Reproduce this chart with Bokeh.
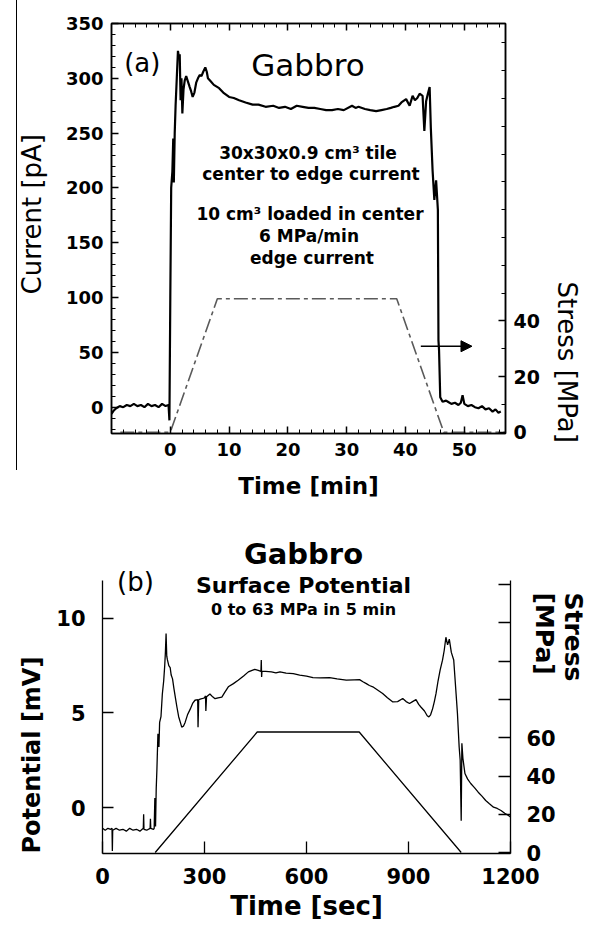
import math
from bokeh.plotting import figure
from bokeh.models import Range1d, LinearAxis, FixedTicker, Label, Arrow, NormalHead, Title
from bokeh.embed import file_html
from bokeh.resources import INLINE

FONT = "DejaVu Sans"

# ---------------- Panel (a) data : current [pA] vs time [min] ----------------
cur_t = [-10.0, -9.6, -9.2, -8.6, -8.0, -7.4, -6.8, -6.2, -5.6, -5.0, -4.4, -3.8, -3.2, -2.6,
         -2.0, -1.4, -0.8, -0.3, -0.15, 0.0, 0.15, 0.35, 0.5, 0.6, 0.75, 0.9, 1.1, 1.3, 1.5,
         1.6, 1.75, 1.9, 2.05, 2.25, 2.45, 2.7, 3.0, 3.3, 3.55, 3.8, 4.1, 4.4, 4.7, 5.0, 5.3,
         5.6, 5.95, 6.2, 6.4, 6.9, 7.4, 8.3, 9.0, 10.0, 10.8, 11.7, 12.8, 14.0, 15.0, 16.2,
         17.5, 18.5, 19.5, 20.5, 21.5, 22.5, 23.5, 24.5, 25.5, 26.5, 27.5, 28.5, 29.5, 30.9,
         31.5, 32.0, 33.1, 34.0, 35.0, 35.9, 36.8, 37.5, 38.1, 38.8, 39.3, 40.1, 40.7, 41.2,
         41.6, 42.0, 42.4, 42.9, 43.2, 43.5, 43.8, 44.1, 44.3, 44.6, 44.9, 45.2, 45.5, 45.6,
         45.7, 45.9, 46.3, 46.9, 47.2, 47.8, 48.4, 49.0, 49.4, 49.7, 50.0, 50.6, 51.2, 51.8,
         52.4, 53.0, 53.6, 54.2, 54.8, 55.3, 55.8, 56.2]
cur_pA = [-6, -3, -1, 1, 0, 2, 1, 3, 1, 2, 0, 3, 1, 2,
          0, 3, 1, 2, -12, 100, 200, 215, 245, 205, 250, 275, 300, 325, 318,
          322, 280, 300, 268, 290, 298, 302, 297, 292, 288, 283, 287, 296, 300, 303, 302,
          306, 310, 306, 300, 297, 294, 291, 287, 283, 282, 280, 278, 276, 276, 274,
          275, 273, 274, 272, 275, 274, 273, 273, 272, 271, 271, 272, 271, 275,
          273, 274, 272, 271, 270, 271, 272, 273, 274, 275, 278, 281, 275, 284,
          280, 282, 286, 284, 252, 279, 286, 292, 255, 216, 189, 207, 180, 61,
          52, 9, 5, 6, 5, 3, 4, 2, 4, 11, 3, 1, 2, 0,
          -1, 1, -2, -1, -4, -2, -5, -4]
stress_a_t = [-8.5, 0, 8, 38.5, 46.5, 57]
stress_a_MPa = [0, 0, 48, 48, 0, 0]

xa_ticks = [0, 10, 20, 30, 40, 50]
ya_ticks = [0, 50, 100, 150, 200, 250, 300, 350]
sa_ticks = [0, 20, 40]

# ---------------- Panel (b) data : potential [mV] vs time [sec] ----------------
pot_t = [0, 8, 16, 24, 28, 29, 30, 40, 50, 60, 70, 80, 90, 100, 110, 120, 121, 122, 130, 140,
         141, 142, 150, 152, 154, 156, 158, 160, 163, 166, 168, 172, 176, 180, 183, 185, 187,
         189, 191, 195, 199, 202, 206, 210, 214, 219, 224, 229, 233, 238, 243, 250, 258, 265,
         272, 280, 281, 283, 292, 300, 303, 304, 306, 316, 324, 331, 340, 351, 360, 370, 385,
         399, 415, 429, 440, 448, 458, 466, 467, 468, 469, 480, 497, 510, 522, 540, 561, 580,
         600, 619, 640, 668, 690, 717, 740, 756, 766, 776, 785, 795, 810, 824, 838, 854, 868,
         883, 893, 903, 912, 922, 930, 937, 947, 955, 960, 965, 971, 976, 981, 987, 993, 1000,
         1005, 1010, 1015, 1020, 1026, 1033, 1040, 1044, 1049, 1052, 1055, 1057, 1060, 1066,
         1074, 1083, 1094, 1105, 1116, 1127, 1138, 1150, 1161, 1172, 1183, 1194, 1200]
pot_mV = [-1.1, -1.2, -1.1, -1.15, -1.1, -2.3, -1.2, -1.1, -1.2, -1.15, -1.25, -1.1, -1.2,
          -1.15, -1.25, -1.1, -0.35, -1.15, -1.2, -1.1, -0.6, -1.1, -1.15, -1.1, 0.5, -1.0,
          1.0, 2.0, 3.9, 3.2, 4.5, 4.8, 6.0, 6.7, 7.5, 8.2, 9.2, 8.0, 7.8, 7.5, 7.4, 7.0, 6.8,
          6.3, 5.85, 5.3, 4.8, 4.5, 4.25, 4.3, 4.5, 4.9, 5.2, 5.5, 5.67, 5.7, 4.25, 5.7, 5.75,
          5.8, 5.9, 5.1, 5.85, 6.0, 5.85, 5.75, 5.8, 5.84, 6.1, 6.38, 6.55, 6.73, 6.95, 7.17,
          7.25, 7.3, 7.25, 7.2, 7.8, 6.9, 7.2, 7.2, 7.17, 7.12, 7.17, 7.1, 7.08, 7.0, 6.95,
          6.87, 6.85, 6.87, 6.8, 6.73, 6.75, 6.76, 6.65, 6.55, 6.45, 6.38, 6.2, 6.03, 5.8,
          5.58, 5.6, 5.76, 5.6, 5.5, 5.6, 5.7, 5.45, 5.3, 5.1, 4.85, 4.79, 4.9, 5.23, 5.6,
          6.03, 6.7, 7.26, 7.79, 8.3, 9.0, 8.6, 8.9, 8.2, 7.8, 6.0, 4.96, 3.2, 2.5, -0.7, 3.4,
          2.6, 1.8, 1.5, 1.27, 1.05, 0.81, 0.6, 0.37, 0.2, 0.02, -0.05, -0.16, -0.3, -0.42,
          -0.5]
stress_b_t = [155, 455, 755, 1055]
stress_b_MPa = [0, 63, 63, 0]

xb_ticks = [0, 300, 600, 900, 1200]
yb_ticks = [0, 5, 10]
sb_ticks = [0, 20, 40, 60, 80, 100, 120, 140]
sb_labelled = [0, 20, 40, 60]


def style_axis(ax, tick_in, minor_in, size, standoff, line_w=1.5):
    ax.axis_line_width = line_w
    ax.axis_line_color = "black"
    ax.major_tick_in = tick_in
    ax.major_tick_out = 0
    ax.minor_tick_in = minor_in
    ax.minor_tick_out = 0
    ax.major_tick_line_width = line_w
    ax.minor_tick_line_width = 1
    ax.major_tick_line_color = "black"
    ax.minor_tick_line_color = "black"
    ax.major_label_text_font = FONT
    ax.major_label_text_font_style = "bold"
    ax.major_label_text_font_size = size
    ax.major_label_text_color = "black"
    ax.major_label_standoff = standoff


def add_text(p, conv, px, py, text, size, bold=False, angle=0.0):
    fx, fy = conv
    p.add_layout(Label(x=fx(px), y=fy(py), text=text, text_font=FONT,
                       text_font_size=size, text_font_style="bold" if bold else "normal",
                       text_align="center", text_baseline="middle", angle=angle,
                       text_color="black"))


def side_title(text, size, bold, offset, standoff):
    t = Title(text=text, text_font=FONT, text_font_size=size,
              text_font_style="bold" if bold else "normal", text_color="black",
              align="left", vertical_align="middle", offset=offset)
    try:
        t.standoff = standoff
    except Exception:
        t.standoff = 0
    return t


def converter(L, R, T, B, x0, x1, y0, y1):
    return (lambda px: x0 + (px - L) / (R - L) * (x1 - x0),
            lambda py: y1 - (py - T) / (B - T) * (y1 - y0))


# ================= Panel (a) =================
AL, AR, AT, AB = 108, 505, 23, 433
AH = 510
xa0, xa1, ya0, ya1 = -10, 57, -24, 350
pa = figure(width=590, height=AH, x_range=Range1d(xa0, xa1), y_range=Range1d(ya0, ya1),
            title=None, output_backend="svg", toolbar_location=None,
            min_border_left=AL, min_border_right=590 - AR, min_border_top=AT,
            min_border_bottom=AH - AB,
            styles={"background-image": "linear-gradient(#000, #000)",
                    "background-size": "1px 470px", "background-position": "16px 0px",
                    "background-repeat": "no-repeat", "background-color": "white"})
pa.grid.grid_line_color = None
pa.outline_line_color = "black"
pa.outline_line_width = 1.5
pa.background_fill_color = "white"
pa.border_fill_color = None

pa.xaxis.ticker = FixedTicker(ticks=xa_ticks, minor_ticks=list(range(-10, 57, 2)))
pa.yaxis.ticker = FixedTicker(ticks=ya_ticks, minor_ticks=list(range(-20, 351, 10)))
style_axis(pa.xaxis[0], 7, 4, "18px", 9)
style_axis(pa.yaxis[0], 7, 4, "18px", 8)
pa.xaxis[0].axis_label = "Time [min]"
pa.xaxis[0].axis_label_text_font = FONT
pa.xaxis[0].axis_label_text_font_style = "bold"
pa.xaxis[0].axis_label_text_font_size = "23px"
pa.xaxis[0].axis_label_text_color = "black"
pa.xaxis[0].axis_label_standoff = 14

top_a = LinearAxis(ticker=FixedTicker(ticks=xa_ticks, minor_ticks=list(range(-10, 57, 2))))
style_axis(top_a, 7, 4, "1px", 0)
top_a.major_label_text_alpha = 0
pa.add_layout(top_a, "above")

pa.extra_y_ranges = {"stress": Range1d(-0.47, 147)}
right_a = LinearAxis(y_range_name="stress",
                     ticker=FixedTicker(ticks=sa_ticks, minor_ticks=list(range(0, 141, 10))))
style_axis(right_a, 7, 4, "19px", 8)
pa.add_layout(right_a, "right")

pa.add_layout(side_title("Current [pA]", "26px", False, 139, 30), "left")
pa.add_layout(side_title("Stress [MPa]", "26px", False, 258, 16), "right")

pa.line(cur_t, cur_pA, line_color="black", line_width=2.2)
pa.line(stress_a_t, stress_a_MPa, y_range_name="stress", line_color="#5a5a5a",
        line_width=1.6, line_dash="14 4 4 4")

ARROW_A = dict(x_start=42.6, y_start=55.6, x_end=51.3, y_end=55.6)
pa.add_layout(Arrow(end=NormalHead(size=11, fill_color="black", line_color="black"),
                    line_color="black", line_width=1.5, **ARROW_A))

conv_a = converter(AL, AR, AT, AB, xa0, xa1, ya0, ya1)
add_text(pa, conv_a, 139, 62, "(a)", "26px")
add_text(pa, conv_a, 306, 64, "Gabbro", "31px")
add_text(pa, conv_a, 309, 152, "30x30x0.9 cm\u00b3  tile", "17px", bold=True)
add_text(pa, conv_a, 309, 173, "center to edge current", "17px", bold=True)
add_text(pa, conv_a, 308, 213, "10 cm\u00b3 loaded in center", "17px", bold=True)
add_text(pa, conv_a, 307, 235, "6 MPa/min", "17px", bold=True)
add_text(pa, conv_a, 310, 257, "edge current", "17px", bold=True)

# ================= Panel (b) =================
off = AH                                # page y where panel (b) starts
BH = 937 - AH
BL, BR = 102, 510
BT, BB = 535 - off, 853 - off           # frame top extended above the axes' top (page 580)
AXIS_TOP_PX = 580 - off
xb0, xb1 = 0, 1200
yb0, yb_axis_top = -2.43, 12.0
mv_per_px = (yb_axis_top - yb0) / (BB - AXIS_TOP_PX)
yb1 = yb_axis_top + (AXIS_TOP_PX - BT) * mv_per_px
s_lo, s_axis_top = -0.5, 142.2
s_per_px = (s_axis_top - s_lo) / (BB - AXIS_TOP_PX)
s_hi = s_axis_top + (AXIS_TOP_PX - BT) * s_per_px

pb = figure(width=590, height=BH, x_range=Range1d(xb0, xb1), y_range=Range1d(yb0, yb1),
            title=None, output_backend="svg", toolbar_location=None,
            min_border_left=BL, min_border_right=590 - BR, min_border_top=BT,
            min_border_bottom=BH - BB)
pb.grid.grid_line_color = None
pb.outline_line_color = None
pb.background_fill_color = "white"
pb.border_fill_color = "white"

pb.xaxis.ticker = FixedTicker(ticks=xb_ticks, minor_ticks=[])
pb.yaxis.ticker = FixedTicker(ticks=yb_ticks, minor_ticks=[])
style_axis(pb.xaxis[0], 12, 0, "21px", 14, line_w=1.3)
style_axis(pb.yaxis[0], 11, 0, "21px", 17, line_w=1.3)
pb.yaxis[0].bounds = (yb0, yb_axis_top)
pb.xaxis[0].axis_label = "Time [sec]"
pb.xaxis[0].axis_label_text_font = FONT
pb.xaxis[0].axis_label_text_font_style = "bold"
pb.xaxis[0].axis_label_text_font_size = "26px"
pb.xaxis[0].axis_label_text_color = "black"
pb.xaxis[0].axis_label_standoff = 4

pb.extra_y_ranges = {"stress": Range1d(s_lo, s_hi)}
right_b = LinearAxis(y_range_name="stress", ticker=FixedTicker(ticks=sb_ticks, minor_ticks=[]))
style_axis(right_b, 12, 0, "21px", 16, line_w=1.3)
right_b.bounds = (s_lo, s_axis_top)
right_b.major_label_overrides = {t: ("" if t not in sb_labelled else str(t)) for t in sb_ticks}
pb.add_layout(right_b, "right")

pb.add_layout(side_title("Potential [mV]", "24px", True, 0, 13), "left")
pb.add_layout(side_title("Stress\n[MPa]", "25px", True, 57, -59), "right")

pb.line(pot_t, pot_mV, line_color="black", line_width=1.3)
pb.line(stress_b_t, stress_b_MPa, y_range_name="stress", line_color="black", line_width=1.3)

conv_b = converter(BL, BR, BT, BB, xb0, xb1, yb0, yb1)
add_text(pb, conv_b, 303, 553 - off, "Gabbro", "29px", bold=True)
add_text(pb, conv_b, 135, 581 - off, "(b)", "26px")
add_text(pb, conv_b, 303, 585 - off, "Surface Potential", "22px", bold=True)
add_text(pb, conv_b, 303, 609 - off, "0 to 63 MPa in 5 min", "16px", bold=True)

open("out.html", "w").write(file_html([pa, pb], INLINE))
